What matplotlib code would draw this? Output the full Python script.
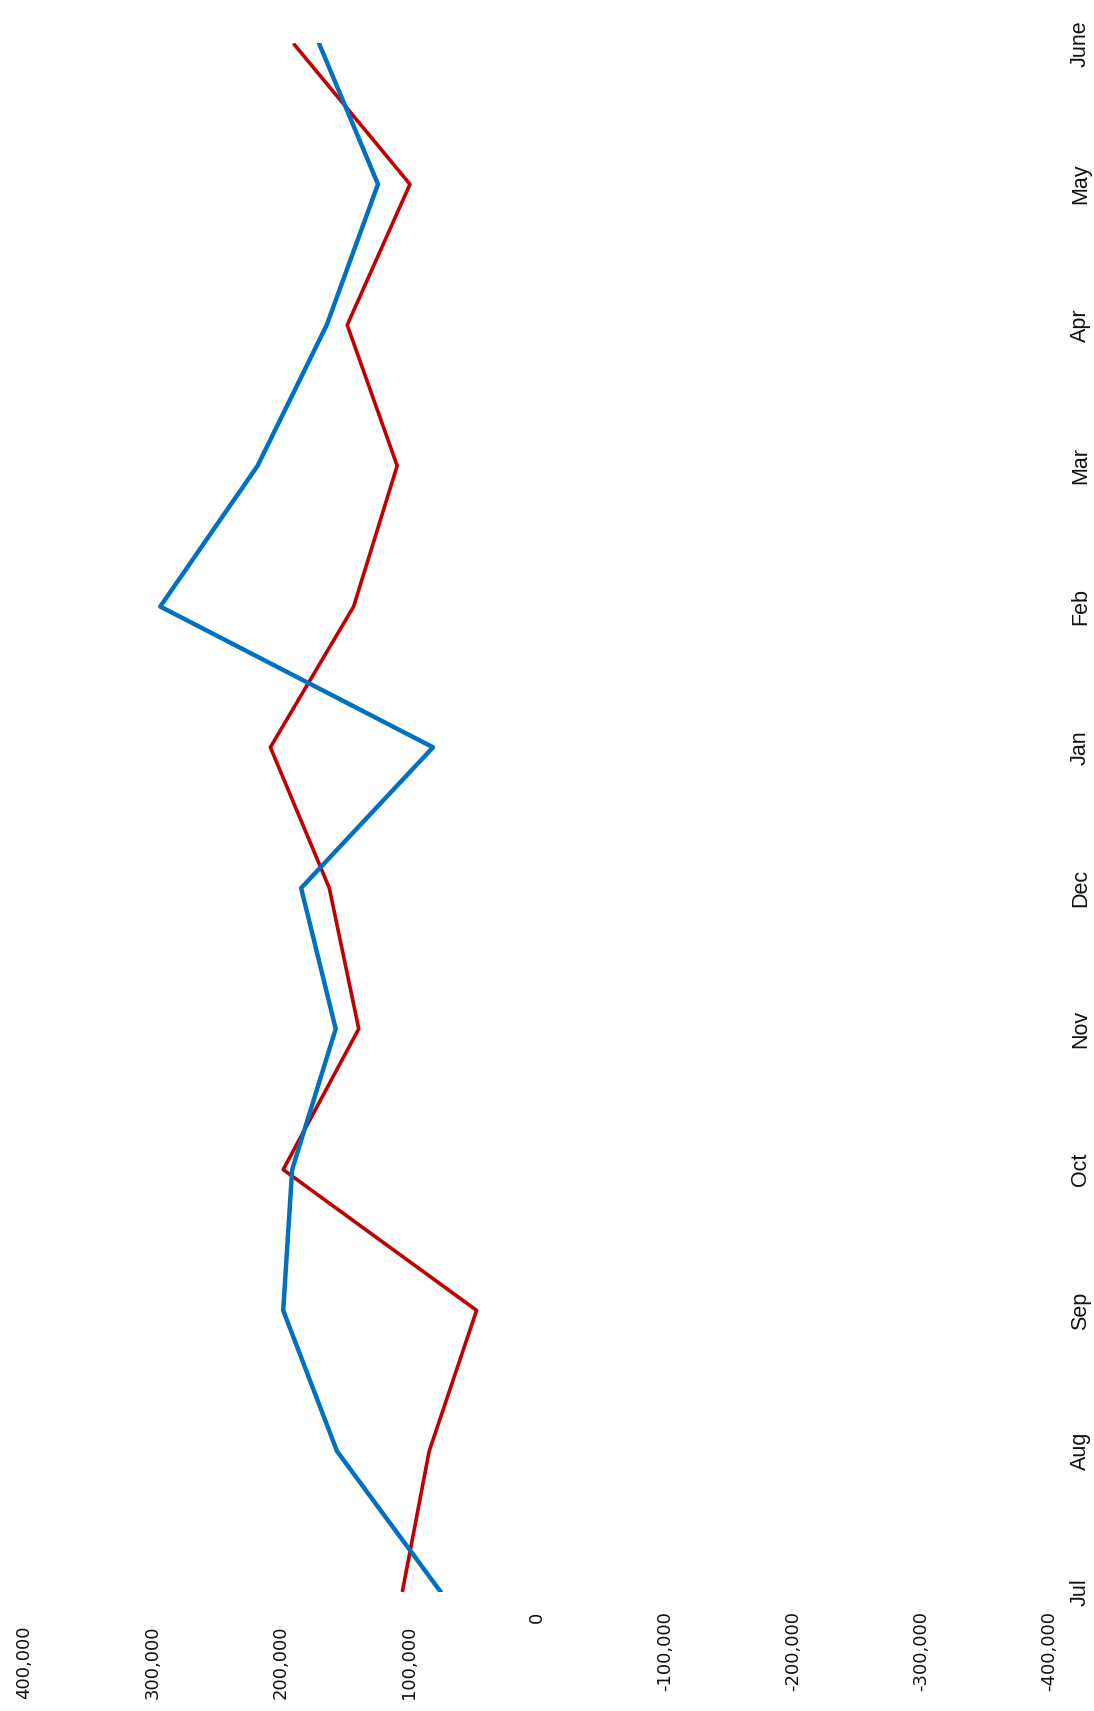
import numpy as np
import matplotlib
matplotlib.use('Agg')
import matplotlib.pyplot as plt
from matplotlib.ticker import FuncFormatter

# --- data ---
months = ['Jul', 'Aug', 'Sep', 'Oct', 'Nov', 'Dec', 'Jan', 'Feb', 'Mar', 'Apr', 'May', 'June']
red_series = [105000, 84000, 47000, 198000, 139000, 162000, 208000, 143000, 109000, 148000, 99000, 190000]
blue_series = [75000, 156000, 198000, 191000, 157000, 184000, 81000, 294000, 218000, 164000, 124000, 170000]
value_ticks = [400000, 300000, 200000, 100000, 0, -100000, -200000, -300000, -400000]

RED = '#C00000'
BLUE = '#0070C0'

# --- plot (page turned sideways: values run right-to-left, months bottom-to-top) ---
fig = plt.figure(figsize=(10.94, 17.11), dpi=100)
ax = fig.add_axes([0.0224, 0.0696, 0.9365, 0.905])

pos = np.arange(len(months))
ax.plot(red_series, pos, color=RED, linewidth=2.6, solid_capstyle='butt', zorder=2)
ax.plot(blue_series, pos, color=BLUE, linewidth=3.2, solid_capstyle='round', zorder=3)

ax.set_xlim(400000, -400000)
ax.set_ylim(0, len(months) - 1)

ax.set_xticks(value_ticks)
ax.xaxis.set_major_formatter(FuncFormatter(lambda v, _: f'{int(v):,}'))
ax.tick_params(axis='x', length=0, pad=14, labelsize=13, labelrotation=90,
               colors='#111111')
for tick, lab in zip(value_ticks, ax.get_xticklabels()):
    lab.set_family(['DejaVu Sans'])
    lab.set_va('top')
    # positive labels sit a little lower than zero and the negatives
    if tick > 0:
        lab.set_y(-0.009)

ax.yaxis.tick_right()
ax.set_yticks(pos)
ax.set_yticklabels(months)
ax.tick_params(axis='y', length=0, pad=15, labelsize=15.5, labelrotation=90,
               colors='#111111')
for lab in ax.get_yticklabels():
    lab.set_family(['Liberation Sans Narrow', 'Liberation Sans', 'DejaVu Sans'])
    lab.set_va('center')

for s in ax.spines.values():
    s.set_visible(False)
ax.set_facecolor('white')

plt.savefig('out.png', dpi=100, facecolor='white')
